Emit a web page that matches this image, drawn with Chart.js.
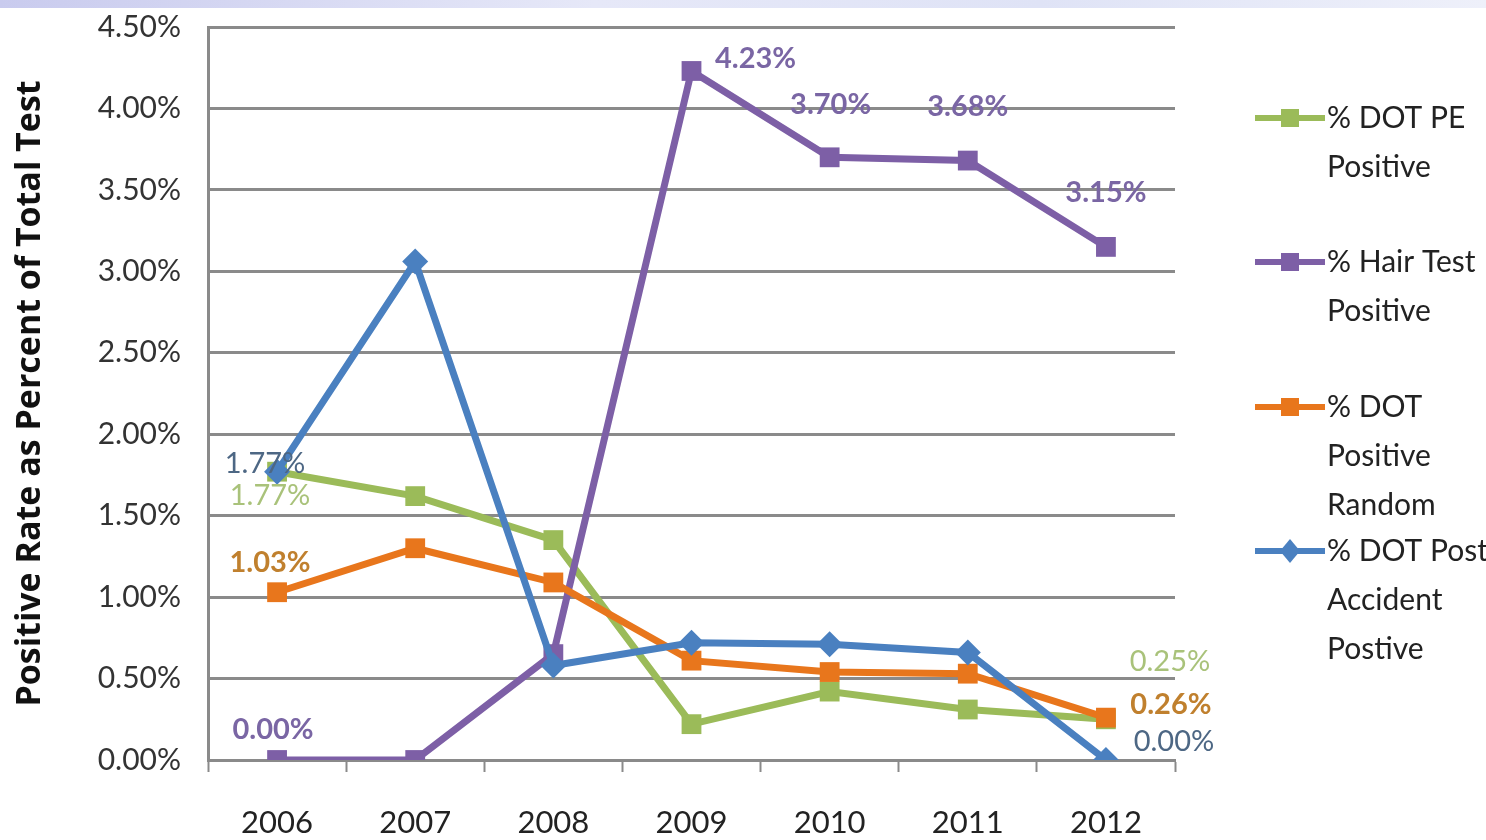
<!DOCTYPE html>
<html>
<head>
<meta charset="utf-8">
<script src="https://cdn.jsdelivr.net/npm/chart.js@4.4.0/dist/chart.umd.min.js"></script>
<style>
  html, body { margin: 0; padding: 0; background: #fff; }
  #wrap { position: relative; width: 1486px; height: 840px; }
  #franja { position: absolute; left: 0; top: 0; width: 1486px; height: 8px;
    background: linear-gradient(90deg, #c9cbee 0%, #e6e8f8 40%, #dfe3f6 70%, #eef0fa 100%); }
</style>
</head>
<body>
<div id="wrap">
  <canvas id="grafico" width="1486" height="840"></canvas>
  <div id="franja"></div>
</div>
<script>
// datos
const anios = ['2006', '2007', '2008', '2009', '2010', '2011', '2012'];
const dotPE = [1.77, 1.62, 1.35, 0.22, 0.42, 0.31, 0.25];
const hairTest = [0.00, 0.00, 0.65, 4.23, 3.70, 3.68, 3.15];
const dotRandom = [1.03, 1.30, 1.09, 0.61, 0.54, 0.53, 0.26];
const postAccident = [1.77, 3.06, 0.58, 0.72, 0.71, 0.66, 0.00];
const yMin = 0;
const yMax = 4.5;
const yPaso = 0.5;

const VERDE = '#9bbb59';
const MORADO = '#7d5fa6';
const NARANJA = '#e8761c';
const AZUL = '#4a80c0';

// etiquetas de valor: serie, indice, desplazamiento
const etiquetas = [
    { serie: 3, i: 0, dx: -12, dy: -8, color: '#4d6784', peso: 'normal' },
    { serie: 0, i: 0, dx: -7, dy: 24, color: '#a9c27a', peso: 'normal' },
    { serie: 2, i: 0, dx: -7, dy: -30, color: '#c0802e', peso: 'bold' },
    { serie: 1, i: 0, dx: -4, dy: -30, color: '#7a66a4', peso: 'bold' },
    { serie: 1, i: 3, dx: 64, dy: -12, color: '#7a66a4', peso: 'bold' },
    { serie: 1, i: 4, dx: 1, dy: -53, color: '#7a66a4', peso: 'bold' },
    { serie: 1, i: 5, dx: 0, dy: -54, color: '#7a66a4', peso: 'bold' },
    { serie: 1, i: 6, dx: 0, dy: -54, color: '#7a66a4', peso: 'bold' },
    { serie: 0, i: 6, dx: 64, dy: -58, color: '#a9c27a', peso: 'normal' },
    { serie: 2, i: 6, dx: 65, dy: -13, color: '#c0802e', peso: 'bold' },
    { serie: 3, i: 6, dx: 68, dy: -18, color: '#4d6784', peso: 'normal' }
];

const leyenda = [
    { lineas: ['% DOT PE', 'Positive'], color: VERDE, forma: 'rect', y: 118 },
    { lineas: ['% Hair Test', 'Positive'], color: MORADO, forma: 'rect', y: 262 },
    { lineas: ['% DOT', 'Positive', 'Random'], color: NARANJA, forma: 'rect', y: 407 },
    { lineas: ['% DOT Post', 'Accident', 'Postive'], color: AZUL, forma: 'rectRot', y: 551 }
];

const pluginEtiquetas = {
    id: 'etiquetas',
    afterDatasetsDraw(chart) {
        const ctx = chart.ctx;
        ctx.save();
        ctx.textAlign = 'center';
        ctx.textBaseline = 'middle';
        etiquetas.forEach(e => {
            const p = chart.getDatasetMeta(e.serie).data[e.i];
            const valor = chart.data.datasets[e.serie].data[e.i];
            ctx.font = e.peso + ' 29px Lato';
            ctx.fillStyle = e.color;
            ctx.fillText(valor.toFixed(2) + '%', p.x + e.dx, p.y + e.dy);
        });
        ctx.restore();
    }
};

const pluginLeyenda = {
    id: 'leyendaPropia',
    afterDraw(chart) {
        const ctx = chart.ctx;
        ctx.save();
        leyenda.forEach(l => {
            ctx.strokeStyle = l.color;
            ctx.lineWidth = 6;
            ctx.beginPath();
            ctx.moveTo(1255, l.y);
            ctx.lineTo(1325, l.y);
            ctx.stroke();
            ctx.fillStyle = l.color;
            ctx.beginPath();
            if (l.forma === 'rect') {
                ctx.rect(1281, l.y - 9, 18, 18);
            } else {
                ctx.moveTo(1290, l.y - 12);
                ctx.lineTo(1300, l.y);
                ctx.lineTo(1290, l.y + 12);
                ctx.lineTo(1280, l.y);
                ctx.closePath();
            }
            ctx.fill();
            ctx.fillStyle = '#222';
            ctx.font = '30px Lato';
            ctx.textAlign = 'left';
            ctx.textBaseline = 'middle';
            l.lineas.forEach((t, k) => ctx.fillText(t, 1327, l.y + k * 49));
        });
        ctx.restore();
    }
};

function serie(nombre, datos, color, forma, radio, orden) {
    return {
        label: nombre,
        data: datos,
        borderColor: color,
        backgroundColor: color,
        borderWidth: 7,
        pointStyle: forma,
        pointRadius: radio,
        pointBorderWidth: 0,
        pointBackgroundColor: color,
        tension: 0,
        order: orden
    };
}

document.addEventListener('DOMContentLoaded', function() {
    const ctx = document.getElementById('grafico').getContext('2d');
    new Chart(ctx, {
        type: 'line',
        data: {
            labels: anios,
            datasets: [
                serie('% DOT PE Positive', dotPE, VERDE, 'rect', 14, 4),
                serie('% Hair Test Positive', hairTest, MORADO, 'rect', 14, 3),
                serie('% DOT Positive Random', dotRandom, NARANJA, 'rect', 14, 2),
                serie('% DOT Post Accident Postive', postAccident, AZUL, 'rectRot', 13, 1)
            ]
        },
        options: {
            responsive: false,
            animation: false,
            layout: { padding: { top: 27, right: 311, bottom: 0, left: 0 } },
            plugins: {
                legend: { display: false },
                tooltip: { enabled: false }
            },
            scales: {
                x: {
                    offset: true,
                    afterFit: s => { s.height = 80; },
                    grid: {
                        offset: true,
                        drawOnChartArea: false,
                        drawTicks: true,
                        tickLength: 12,
                        tickWidth: 2,
                        tickColor: '#8a8a8a'
                    },
                    border: { display: true, color: '#8a8a8a', width: 3 },
                    ticks: {
                        padding: 32,
                        color: '#222',
                        font: { family: 'Lato', size: 31 }
                    }
                },
                y: {
                    min: yMin,
                    max: yMax,
                    afterFit: s => {
                        s.width = 208;
                        s.paddingTop = 0;
                        s.paddingBottom = 0;
                    },
                    grid: { color: '#8a8a8a', lineWidth: 3, drawTicks: false },
                    border: { display: true, color: '#8a8a8a', width: 3 },
                    ticks: {
                        stepSize: yPaso,
                        padding: 27,
                        color: '#333',
                        font: { family: 'Lato', size: 30 },
                        callback: v => v.toFixed(2) + '%'
                    },
                    title: {
                        display: true,
                        text: 'Positive Rate as Percent of Total Test',
                        color: '#111',
                        padding: { top: 10, bottom: 0 },
                        font: { family: 'Open Sans', size: 34, weight: 'bold' }
                    }
                }
            }
        },
        plugins: [pluginEtiquetas, pluginLeyenda]
    });
});
</script>
</body>
</html>
